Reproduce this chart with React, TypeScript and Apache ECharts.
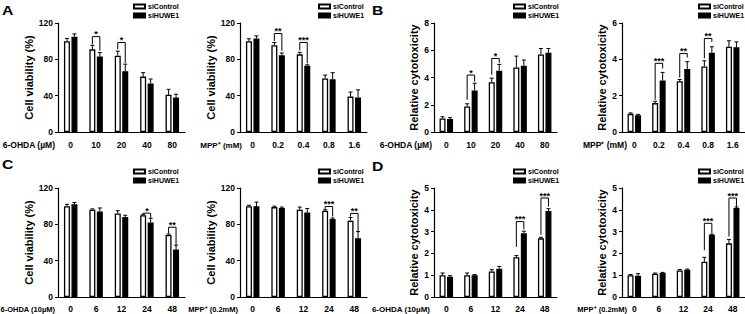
import React, { useEffect, useRef } from 'react';
import * as echarts from 'echarts';

const FONT = '"Liberation Sans", Arial, Helvetica, sans-serif';

// categories
const ohdaDoses = ['0', '10', '20', '40', '80'];
const mppDoses = ['0', '0.2', '0.4', '0.8', '1.6'];
const hours = ['0', '6', '12', '24', '48'];

// A1: 6-OHDA viability
const a1Ctrl = [100, 91, 84, 61, 41];
const a1CtrlSd = [3, 4.4, 5, 4.3, 6];
const a1Huwe = [105, 83, 67, 53.5, 38];
const a1HuweSd = [3, 4.4, 7.7, 4.8, 3.6];
const a1SigIdx = [1, 2];
const a1SigY = [105, 98.5];
const a1SigL = [96.5, 91];
const a1SigR = [89.5, 76];
const a1SigLab = ['*', '*'];

// A2: MPP+ viability
const a2Ctrl = [100, 95.5, 85.5, 59, 39];
const a2CtrlSd = [2.6, 3, 2.2, 3.7, 5];
const a2Huwe = [103, 84.5, 73, 58, 38];
const a2HuweSd = [2.8, 2.5, 1, 7.3, 8.4];
const a2SigIdx = [1, 2];
const a2SigY = [108.4, 98.5];
const a2SigL = [100, 90];
const a2SigR = [89.4, 75.5];
const a2SigLab = ['**', '***'];

// B1: 6-OHDA cytotoxicity
const b1Ctrl = [1.0, 1.87, 3.65, 4.74, 5.69];
const b1CtrlSd = [0.12, 0.2, 0.3, 0.83, 0.44];
const b1Huwe = [0.95, 3.04, 4.5, 4.87, 5.81];
const b1HuweSd = [0.1, 0.54, 0.46, 0.41, 0.32];
const b1SigIdx = [1, 2];
const b1SigY = [4.18, 5.4];
const b1SigL = [2.36, 4.2];
const b1SigR = [3.7, 5.08];
const b1SigLab = ['*', '*'];

// B2: MPP+ cytotoxicity
const b2Ctrl = [1.0, 1.59, 2.79, 3.61, 4.69];
const b2CtrlSd = [0.05, 0.1, 0.1, 0.31, 0.33];
const b2Huwe = [0.92, 2.83, 3.47, 4.36, 4.67];
const b2HuweSd = [0.05, 0.45, 0.4, 0.33, 0.29];
const b2SigIdx = [1, 2, 3];
const b2SigY = [3.78, 4.32, 5.15];
const b2SigL = [1.77, 3.0, 4.05];
const b2SigR = [3.5, 4.1, 4.96];
const b2SigLab = ['***', '**', '**'];

// C1: 6-OHDA (10µM) time course viability
const c1Ctrl = [100, 96, 92, 90, 68.3];
const c1CtrlSd = [2, 1, 3, 1, 1];
const c1Huwe = [102, 94, 88, 82, 52.4];
const c1HuweSd = [2, 4, 2, 4.7, 4.6];
const c1SigIdx = [3, 4];
const c1SigY = [92.3, 76.8];
const c1SigL = [91.5, 70];
const c1SigR = [87.2, 57.5];
const c1SigLab = ['*', '**'];

// C2: MPP+ (0.2mM) time course viability
const c2Ctrl = [100, 99, 96, 95, 84];
const c2CtrlSd = [1, 1, 3, 1, 3.5];
const c2Huwe = [100, 98, 93, 86, 64.6];
const c2HuweSd = [4.5, 1, 4.5, 1, 7.4];
const c2SigIdx = [3, 4];
const c2SigY = [99.6, 92];
const c2SigL = [96.5, 88.5];
const c2SigR = [88.6, 72.5];
const c2SigLab = ['***', '**'];

// D1: 6-OHDA (10µM) time course cytotoxicity
const d1Ctrl = [1.0, 1.0, 1.17, 1.82, 2.69];
const d1CtrlSd = [0.1, 0.1, 0.08, 0.08, 0.05];
const d1Huwe = [0.93, 1.0, 1.3, 2.92, 3.95];
const d1HuweSd = [0.05, 0.03, 0.1, 0.1, 0.1];
const d1SigIdx = [3, 4];
const d1SigY = [3.46, 4.54];
const d1SigL = [2.3, 2.85];
const d1SigR = [3.1, 4.15];
const d1SigLab = ['***', '***'];

// D2: MPP+ (0.2mM) time course cytotoxicity
const d2Ctrl = [1.0, 1.07, 1.22, 1.62, 2.46];
const d2CtrlSd = [0.03, 0.03, 0.04, 0.2, 0.18];
const d2Huwe = [0.97, 1.1, 1.25, 2.85, 4.08];
const d2HuweSd = [0.1, 0.03, 0.03, 0.03, 0.05];
const d2SigIdx = [3, 4];
const d2SigY = [3.38, 4.54];
const d2SigL = [2.15, 2.77];
const d2SigR = [2.92, 4.15];
const d2SigLab = ['***', '***'];

const OFF = 3.75;

type Panel = {
  left: number; top: number; width: number; height: number;
  cats: string[]; ctrl: number[]; ctrlSd: number[]; huwe: number[]; huweSd: number[];
  sigIdx: number[]; sigY: number[]; sigL: number[]; sigR: number[]; sigLab: string[];
  yMax: number; yInt: number; yName: string; nameGap: number; nameSize: number;
  xName: string; xNameRight: number; xNameSize: number; legendLeft: number; legendTop: number;
  xLabelMargin: number;
};

const viab = 'Cell viability (%)';
const cyto = 'Relative cytotoxicity';

const panels: Panel[] = [
  { left: 58, top: 23, width: 127, height: 109, cats: ohdaDoses, ctrl: a1Ctrl, ctrlSd: a1CtrlSd, huwe: a1Huwe, huweSd: a1HuweSd,
    sigIdx: a1SigIdx, sigY: a1SigY, sigL: a1SigL, sigR: a1SigR, sigLab: a1SigLab,
    yMax: 120, yInt: 40, yName: viab, nameGap: 19, nameSize: 11, xName: '6-OHDA (µM)', xNameRight: 55, xNameSize: 8.5,
    legendLeft: 133, legendTop: 3, xLabelMargin: 8 },
  { left: 240, top: 23, width: 127, height: 109, cats: mppDoses, ctrl: a2Ctrl, ctrlSd: a2CtrlSd, huwe: a2Huwe, huweSd: a2HuweSd,
    sigIdx: a2SigIdx, sigY: a2SigY, sigL: a2SigL, sigR: a2SigR, sigLab: a2SigLab,
    yMax: 120, yInt: 40, yName: viab, nameGap: 19, nameSize: 11, xName: 'MPP⁺ (mM)', xNameRight: 242, xNameSize: 8,
    legendLeft: 318, legendTop: 3, xLabelMargin: 8 },
  { left: 434, top: 23, width: 123, height: 109, cats: ohdaDoses, ctrl: b1Ctrl, ctrlSd: b1CtrlSd, huwe: b1Huwe, huweSd: b1HuweSd,
    sigIdx: b1SigIdx, sigY: b1SigY, sigL: b1SigL, sigR: b1SigR, sigLab: b1SigLab,
    yMax: 8, yInt: 2, yName: cyto, nameGap: 15, nameSize: 11, xName: '6-OHDA (µM)', xNameRight: 432, xNameSize: 8.5,
    legendLeft: 513, legendTop: 3, xLabelMargin: 8 },
  { left: 622, top: 23, width: 123, height: 109, cats: mppDoses, ctrl: b2Ctrl, ctrlSd: b2CtrlSd, huwe: b2Huwe, huweSd: b2HuweSd,
    sigIdx: b2SigIdx, sigY: b2SigY, sigL: b2SigL, sigR: b2SigR, sigLab: b2SigLab,
    yMax: 6, yInt: 2, yName: cyto, nameGap: 15, nameSize: 11, xName: 'MPP⁺ (mM)', xNameRight: 627, xNameSize: 8.5,
    legendLeft: 698, legendTop: 3, xLabelMargin: 8 },
  { left: 58, top: 188, width: 127, height: 109, cats: hours, ctrl: c1Ctrl, ctrlSd: c1CtrlSd, huwe: c1Huwe, huweSd: c1HuweSd,
    sigIdx: c1SigIdx, sigY: c1SigY, sigL: c1SigL, sigR: c1SigR, sigLab: c1SigLab,
    yMax: 120, yInt: 40, yName: viab, nameGap: 19, nameSize: 11, xName: '6-OHDA (10µM)', xNameRight: 55, xNameSize: 7.5,
    legendLeft: 133, legendTop: 168, xLabelMargin: 7 },
  { left: 240, top: 188, width: 127, height: 109, cats: hours, ctrl: c2Ctrl, ctrlSd: c2CtrlSd, huwe: c2Huwe, huweSd: c2HuweSd,
    sigIdx: c2SigIdx, sigY: c2SigY, sigL: c2SigL, sigR: c2SigR, sigLab: c2SigLab,
    yMax: 120, yInt: 40, yName: viab, nameGap: 19, nameSize: 11, xName: 'MPP⁺ (0.2mM)', xNameRight: 238, xNameSize: 7.5,
    legendLeft: 318, legendTop: 168, xLabelMargin: 7 },
  { left: 434, top: 188, width: 123, height: 109, cats: hours, ctrl: d1Ctrl, ctrlSd: d1CtrlSd, huwe: d1Huwe, huweSd: d1HuweSd,
    sigIdx: d1SigIdx, sigY: d1SigY, sigL: d1SigL, sigR: d1SigR, sigLab: d1SigLab,
    yMax: 5, yInt: 1, yName: cyto, nameGap: 15, nameSize: 11, xName: '6-OHDA (10µM)', xNameRight: 430, xNameSize: 8,
    legendLeft: 513, legendTop: 168, xLabelMargin: 7 },
  { left: 622, top: 188, width: 123, height: 109, cats: hours, ctrl: d2Ctrl, ctrlSd: d2CtrlSd, huwe: d2Huwe, huweSd: d2HuweSd,
    sigIdx: d2SigIdx, sigY: d2SigY, sigL: d2SigL, sigR: d2SigR, sigLab: d2SigLab,
    yMax: 5, yInt: 1, yName: cyto, nameGap: 15, nameSize: 11, xName: 'MPP⁺ (0.2mM)', xNameRight: 627, xNameSize: 7.5,
    legendLeft: 698, legendTop: 168, xLabelMargin: 7 },
];

const letters = [
  { t: 'A', x: 2, y: 4 },
  { t: 'B', x: 372, y: 4 },
  { t: 'C', x: 2, y: 158 },
  { t: 'D', x: 372, y: 160 },
];

function errRender(side: number) {
  return (params: any, api: any) => {
    const i = api.value(0), m = api.value(1), s = api.value(2);
    const p0 = api.coord([i, m]);
    const p1 = api.coord([i, m + s]);
    const x = p0[0] + side * OFF;
    return {
      type: 'group',
      children: [
        { type: 'line', shape: { x1: x, y1: p0[1], x2: x, y2: p1[1] }, style: { stroke: '#000', lineWidth: 1 } },
        { type: 'line', shape: { x1: x - 2, y1: p1[1], x2: x + 2, y2: p1[1] }, style: { stroke: '#000', lineWidth: 1 } },
      ],
    };
  };
}

function sigRender(labels: string[]) {
  return (params: any, api: any) => {
    const i = api.value(0), y = api.value(1), l = api.value(2), r = api.value(3);
    const c = api.coord([i, y]);
    const pl = api.coord([i, l]);
    const pr = api.coord([i, r]);
    const xl = c[0] - OFF, xr = c[0] + OFF;
    return {
      type: 'group',
      children: [
        { type: 'polyline', shape: { points: [[xl, pl[1]], [xl, c[1]], [xr, c[1]], [xr, pr[1]]] },
          style: { stroke: '#000', lineWidth: 1, fill: 'none' } },
        { type: 'text', x: (xl + xr) / 2, y: c[1] + 2,
          style: { text: labels[params.dataIndex], fill: '#000', font: `bold 9px ${FONT}`, align: 'center', verticalAlign: 'bottom' } },
      ],
    };
  };
}

function buildOption() {
  const grid: any[] = [], xAxis: any[] = [], yAxis: any[] = [], series: any[] = [], legend: any[] = [], graphic: any[] = [];
  panels.forEach((p, k) => {
    grid.push({ left: p.left, top: p.top, width: p.width, height: p.height, containLabel: false, outerBoundsMode: 'none' });
    xAxis.push({
      type: 'category', gridIndex: k, data: p.cats,
      axisLine: { lineStyle: { color: '#000', width: 1.2 } },
      axisTick: { alignWithLabel: true, length: 3, lineStyle: { color: '#000', width: 1 } },
      axisLabel: { color: '#000', fontSize: 8.5, fontWeight: 'bold', fontFamily: FONT, margin: p.xLabelMargin, interval: 0 },
    });
    yAxis.push({
      type: 'value', gridIndex: k, min: 0, max: p.yMax, interval: p.yInt,
      name: p.yName, nameLocation: 'middle', nameGap: p.nameGap,
      nameTextStyle: { color: '#000', fontSize: p.nameSize, fontWeight: 'bold', fontFamily: FONT },
      axisLine: { show: true, lineStyle: { color: '#000', width: 1.2 } },
      axisTick: { show: true, length: 3, lineStyle: { color: '#000', width: 1 } },
      splitLine: { show: false },
      axisLabel: { color: '#000', fontSize: 8.5, fontWeight: 'bold', fontFamily: FONT, margin: 5 },
    });
    series.push({
      type: 'bar', name: 'siControl', xAxisIndex: k, yAxisIndex: k, data: p.ctrl, barWidth: 6, barGap: '25%',
      itemStyle: { color: '#fff', borderColor: '#000', borderWidth: 1.3 },
    });
    series.push({
      type: 'bar', name: 'siHUWE1', xAxisIndex: k, yAxisIndex: k, data: p.huwe, barWidth: 6, barGap: '25%',
      itemStyle: { color: '#000', borderColor: '#000', borderWidth: 1.3 },
    });
    series.push({
      type: 'custom', xAxisIndex: k, yAxisIndex: k, z: 5, renderItem: errRender(-1),
      data: p.ctrl.map((v, i) => [i, v, p.ctrlSd[i]]), encode: { x: 0, y: 1 },
    });
    series.push({
      type: 'custom', xAxisIndex: k, yAxisIndex: k, z: 5, renderItem: errRender(1),
      data: p.huwe.map((v, i) => [i, v, p.huweSd[i]]), encode: { x: 0, y: 1 },
    });
    series.push({
      type: 'custom', xAxisIndex: k, yAxisIndex: k, z: 6, renderItem: sigRender(p.sigLab),
      data: p.sigIdx.map((c, i) => [c, p.sigY[i], p.sigL[i], p.sigR[i]]), encode: { x: 0, y: 1 },
    });
    legend.push({
      left: p.legendLeft, top: p.legendTop, orient: 'vertical', padding: 0, itemGap: 2,
      itemWidth: 11, itemHeight: 4, icon: 'rect', data: ['siControl', 'siHUWE1'],
      textStyle: { color: '#000', fontSize: 7, fontWeight: 'bold', fontFamily: FONT, padding: [0, 0, 0, -2] },
      selectedMode: false,
    });
    graphic.push({
      type: 'text', x: p.xNameRight, y: p.top + p.height + p.xLabelMargin + 5,
      style: { text: p.xName, fill: '#000', font: `bold ${p.xNameSize}px ${FONT}`, align: 'right', verticalAlign: 'middle' },
    });
  });
  letters.forEach((l) => {
    graphic.push({
      type: 'text', x: l.x, y: l.y, scaleX: 1.05, scaleY: 0.85,
      style: { text: l.t, fill: '#000', font: `bold 15px ${FONT}`, align: 'left', verticalAlign: 'top' },
    });
  });
  return { animation: false, backgroundColor: '#fff', grid, xAxis, yAxis, series, legend, graphic };
}

export default function App() {
  const ref = useRef<HTMLDivElement>(null);
  useEffect(() => {
    if (!ref.current) return;
    const chart = echarts.init(ref.current, undefined, { renderer: 'svg' });
    chart.setOption(buildOption() as any);
    return () => chart.dispose();
  }, []);
  return <div ref={ref} style={{ position: 'absolute', left: 0, top: 0, width: 745, height: 314 }} />;
}
